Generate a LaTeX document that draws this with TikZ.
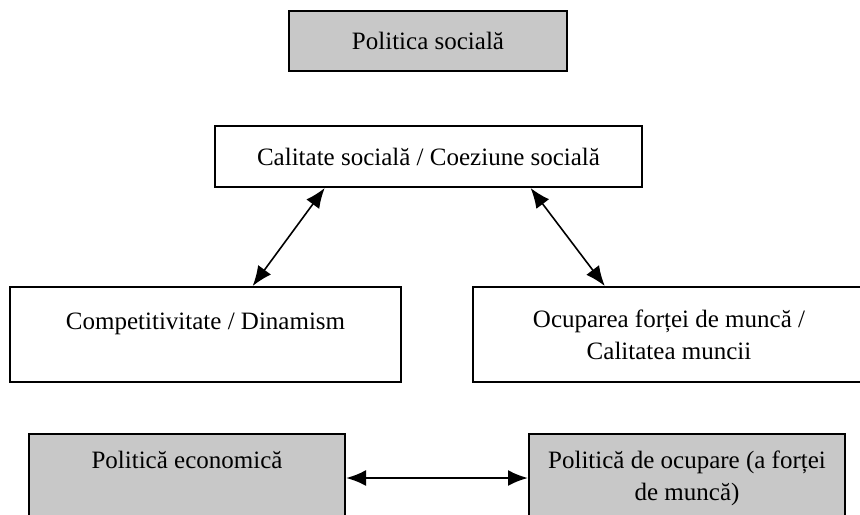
\documentclass[tikz,border=0pt]{standalone}
\usepackage{fontspec}
\setmainfont{Liberation Serif}
\usetikzlibrary{arrows.meta,calc,positioning}
\definecolor{boxgray}{RGB}{200,200,200}
\tikzset{
    plainbox/.style={draw, line width=1pt, inner sep=0pt, font=\fontsize{12.5}{16}\selectfont},
    greybox/.style={plainbox, fill=boxgray},
    twoway/.style={{Latex[length=10pt,width=8pt]}-{Latex[length=10pt,width=8pt]}, line width=0.8pt},
}

\begin{document}
\begin{tikzpicture}[x=0.5pt,y=-0.5pt]
    \useasboundingbox (0,0) rectangle (860,514);

    \node[greybox, minimum width=139pt, minimum height=30pt] (social) at (428,41) {Politica socială};

    \node[plainbox, minimum width=213.5pt, minimum height=30.5pt] (calit) at (428.5,156.5) {Calitate socială / Coeziune socială};

    \node[plainbox, minimum width=195.5pt, text height=21pt, text depth=26.5pt] (compet) at (205.5,334.5) {Competitivitate / Dinamism};
    \node[plainbox, minimum width=196pt, minimum height=47.5pt, align=center] (ocup) at (669,334.5) {Ocuparea forței de muncă /\\ Calitatea muncii};

    \draw[twoway] ($(calit.south west)!0.258!(calit.south east)$) -- ($(compet.north west)!0.62!(compet.north east)$);
    \draw[twoway] ($(calit.south west)!0.738!(calit.south east)$) -- ($(ocup.north west)!0.337!(ocup.north east)$);

    \node[greybox, minimum width=158pt, text height=17pt, text depth=27pt] (econ) at (187,478) {Politică economică};
    \node[greybox, minimum width=158pt, minimum height=44pt, align=center] (ocpol) at (687,478) {Politică de ocupare (a forței\\ de muncă)};

    \draw[twoway, line width=1.2pt] (econ.east) -- (ocpol.west);
\end{tikzpicture}
\end{document}
